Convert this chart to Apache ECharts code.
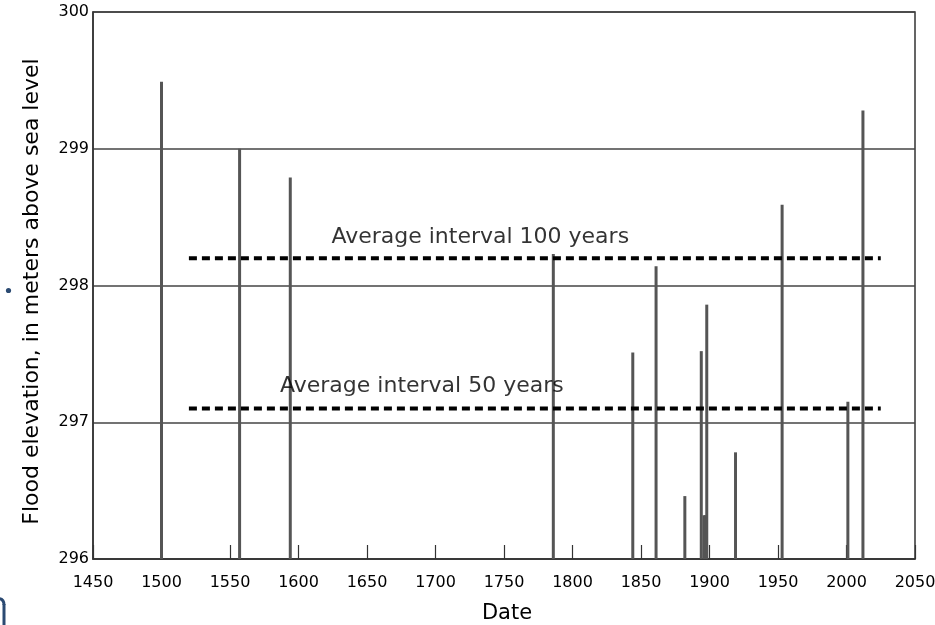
<!DOCTYPE html>
<html>
<head>
<meta charset="utf-8">
<style>
html,body{margin:0;padding:0;background:#fff;}
#chart{width:935px;height:625px;}
</style>
<script src="https://cdn.jsdelivr.net/npm/echarts@6/dist/echarts.min.js"></script>
</head>
<body>
<div id="chart"></div>
<script>
// Flood events: year and elevation (m above sea level)
var floodYears = [1500, 1557, 1594, 1786, 1844, 1861, 1882, 1894, 1896, 1897, 1898, 1919, 1953, 2001, 2012];
var floodElevations = [299.49, 299.0, 298.79, 298.23, 297.51, 298.14, 296.46, 297.52, 296.32, 296.32, 297.86, 296.78, 298.59, 297.15, 299.28];

// Average interval reference lines
var avgLineYears = [1520, 2025];
var avg100Level = 298.2;
var avg50Level = 297.1;
var avgLabels = ['Average interval 100 years', 'Average interval 50 years'];
var avgLabelAnchors = [[1624, 298.35], [1586.5, 297.26]];

// Axis settings
var xMin = 1450, xMax = 2050, xStep = 50;
var yMin = 296, yMax = 300, yStep = 1;

var FONT = 'DejaVu Sans';
var chart = echarts.init(document.getElementById('chart'));

var barData = floodYears.map(function (y, i) { return [y, floodElevations[i]]; });

chart.setOption({
  backgroundColor: '#fff',
  animation: false,
  grid: {
    left: 93, right: 20, top: 12, bottom: 66,
    outerBoundsMode: 'none', containLabel: false,
    show: true, borderColor: '#333', borderWidth: 1.5, backgroundColor: 'transparent'
  },
  xAxis: {
    type: 'value', min: xMin, max: xMax, interval: xStep,
    name: 'Date', nameLocation: 'middle', nameGap: 44,
    nameTextStyle: { fontFamily: FONT, fontSize: 21, color: '#000', padding: [0, 0, 0, 6] },
    axisLine: { show: true, lineStyle: { color: '#333', width: 1.5 } },
    axisTick: { show: true, inside: true, length: 14, lineStyle: { color: '#333', width: 1.2 } },
    axisLabel: { fontFamily: FONT, fontSize: 16, color: '#000', margin: 16,
      formatter: function (v) { return String(v); } },
    splitLine: { show: false }
  },
  yAxis: {
    type: 'value', min: yMin, max: yMax, interval: yStep,
    name: 'Flood elevation, in meters above sea level', nameLocation: 'middle', nameGap: 50,
    nameTextStyle: { fontFamily: FONT, fontSize: 22, color: '#000', padding: [0, 12, 0, 0] },
    axisLine: { show: true, lineStyle: { color: '#333', width: 1.5 } },
    axisTick: { show: false },
    axisLabel: { fontFamily: FONT, fontSize: 16, color: '#000', margin: 4,
      formatter: function (v) { return String(v); } },
    splitLine: { show: true, lineStyle: { color: '#444', width: 1.5 } }
  },
  series: [
    {
      type: 'custom',
      data: barData,
      renderItem: function (params, api) {
        var top = api.coord([api.value(0), api.value(1)]);
        var base = api.coord([api.value(0), yMin]);
        var w = 3;
        return {
          type: 'rect',
          shape: { x: top[0] - w / 2, y: top[1], width: w, height: base[1] - top[1] },
          style: { fill: '#555' }
        };
      },
      z: 3
    },
    {
      type: 'line',
      data: avgLineYears.map(function (y) { return [y, avg100Level]; }),
      symbol: 'none',
      lineStyle: { color: '#000', width: 4, type: [8, 5] },
      z: 4
    },
    {
      type: 'line',
      data: avgLineYears.map(function (y) { return [y, avg50Level]; }),
      symbol: 'none',
      lineStyle: { color: '#000', width: 4, type: [8, 5] },
      z: 4
    },
    {
      type: 'scatter',
      symbolSize: 0,
      data: avgLabelAnchors.map(function (p, i) { return { value: p, name: avgLabels[i] }; }),
      label: {
        show: true, position: 'right', distance: 0,
        formatter: function (p) { return p.name; },
        fontFamily: FONT, fontSize: 22, color: '#000'
      },
      silent: true,
      z: 5
    }
  ],
  graphic: [
    { type: 'circle', shape: { cx: 8.5, cy: 290.5, r: 2.6 }, style: { fill: '#2b4a72' } },
    { type: 'bezierCurve', shape: { x1: -2, y1: 598.5, x2: 4, y2: 605, cpx1: 4, cpy1: 598.5 },
      style: { stroke: '#2b4a72', lineWidth: 3, fill: null } },
    { type: 'line', shape: { x1: 4, y1: 604, x2: 4, y2: 626 },
      style: { stroke: '#2b4a72', lineWidth: 3 } }
  ]
});
</script>
</body>
</html>
